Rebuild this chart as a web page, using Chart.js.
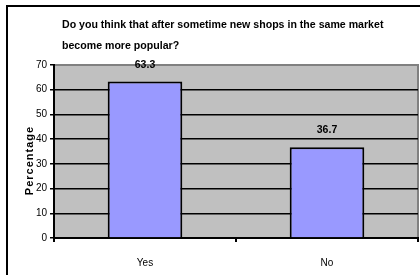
<!DOCTYPE html>
<html>
<head>
<meta charset="utf-8">
<script src="https://cdn.jsdelivr.net/npm/chart.js@4"></script>
<style>
html, body { margin: 0; padding: 0; background: #fff; overflow: hidden; }
#wrap { position: relative; width: 420px; height: 275px; overflow: hidden; }
#frame { position: absolute; left: 6px; top: 5px; width: 500px; height: 400px;
         border-left: 2px solid #000; border-top: 2px solid #000; pointer-events: none; }
canvas { position: absolute; left: 0; top: 0; }
</style>
</head>
<body>
<div id="wrap">
  <canvas id="chart" width="420" height="275"></canvas>
  <div id="frame"></div>
</div>
<script>
// --- data ---
const titleLines = ['Do you think that after sometime new shops in the same market', 'become more popular?'];
const categories = ['Yes', 'No'];
const percentages = [63.3, 36.7];
const yTickValues = [0, 10, 20, 30, 40, 50, 60, 70];
const yAxisTitle = 'Percentage';

const FONT = "'Liberation Sans', Arial, sans-serif";

// gray plot area with the darker top/right edge
const plotBg = {
    id: 'plotBg',
    beforeDraw(chart) {
        const { ctx, chartArea: a } = chart;
        ctx.save();
        ctx.fillStyle = '#c0c0c0';
        ctx.fillRect(a.left, a.top, a.right - a.left, a.bottom - a.top);
        ctx.strokeStyle = '#808080';
        ctx.lineWidth = 2;
        ctx.beginPath();
        ctx.moveTo(a.left, a.top);
        ctx.lineTo(a.right, a.top);
        ctx.lineTo(a.right, a.bottom);
        ctx.stroke();
        ctx.restore();
    }
};

// value labels above bars
const barValues = {
    id: 'barValues',
    afterDatasetsDraw(chart) {
        const { ctx } = chart;
        const meta = chart.getDatasetMeta(0);
        ctx.save();
        ctx.fillStyle = '#000';
        ctx.font = 'bold 10.5px ' + FONT;
        ctx.textAlign = 'center';
        ctx.textBaseline = 'alphabetic';
        meta.data.forEach((bar, i) => {
            ctx.fillText(percentages[i].toFixed(1), bar.x, bar.y - 14);
        });
        ctx.restore();
    }
};

// title sits a little right of the chart's left edge;
// y title is letter-spaced and sits a bit low, as in the original
const tweaks = {
    id: 'tweaks',
    afterLayout(chart) {
        if (chart.titleBlock) chart.titleBlock.left = 62;
    },
    beforeDraw(chart) {
        const s = chart.scales.y;
        if (s && !s._patched) {
            const orig = s.drawTitle.bind(s);
            s.drawTitle = function () {
                const ctx = chart.ctx;
                ctx.save();
                ctx.letterSpacing = '1px';
                ctx.translate(0, 9);
                orig();
                ctx.restore();
            };
            s._patched = true;
        }
    }
};

new Chart(document.getElementById('chart'), {
    type: 'bar',
    data: {
        labels: categories,
        datasets: [{
            data: percentages,
            backgroundColor: '#9999ff',
            borderColor: '#000',
            borderWidth: 2,
            borderSkipped: 'bottom',
            categoryPercentage: 1,
            barPercentage: 0.41
        }]
    },
    options: {
        responsive: false,
        animation: false,
        layout: { padding: { left: 0, right: 2, top: 0, bottom: 0 } },
        plugins: {
            legend: { display: false },
            tooltip: { enabled: false },
            title: {
                display: true,
                text: titleLines,
                align: 'start',
                color: '#000',
                font: { family: FONT, size: 10.6, weight: 'bold', lineHeight: 1.98 },
                padding: { top: 15, bottom: 8 }
            }
        },
        scales: {
            x: {
                grid: { offset: true, drawOnChartArea: false, drawTicks: true, tickLength: 4, color: '#000', lineWidth: 2 },
                border: { color: '#000', width: 2 },
                ticks: { color: '#000', font: { family: FONT, size: 10 }, padding: 15 },
                afterFit(s) { s.height = 37; }
            },
            y: {
                min: 0,
                max: 70,
                afterBuildTicks(s) { s.ticks = yTickValues.map(v => ({ value: v })); },
                grid: {
                    color: c => (c.tick && c.tick.value === 70) ? 'rgba(0,0,0,0)' : '#000',
                    tickColor: '#000',
                    lineWidth: 1.5,
                    tickLength: 4
                },
                border: { color: '#000', width: 2 },
                ticks: { color: '#000', font: { family: FONT, size: 10 }, padding: 3 },
                title: {
                    display: true,
                    text: yAxisTitle,
                    color: '#000',
                    font: { family: FONT, size: 11, weight: 'bold' },
                    padding: { top: 23, bottom: 0 }
                },
                afterFit(s) { s.width = 54; }
            }
        }
    },
    plugins: [plotBg, barValues, tweaks]
});
</script>
</body>
</html>
